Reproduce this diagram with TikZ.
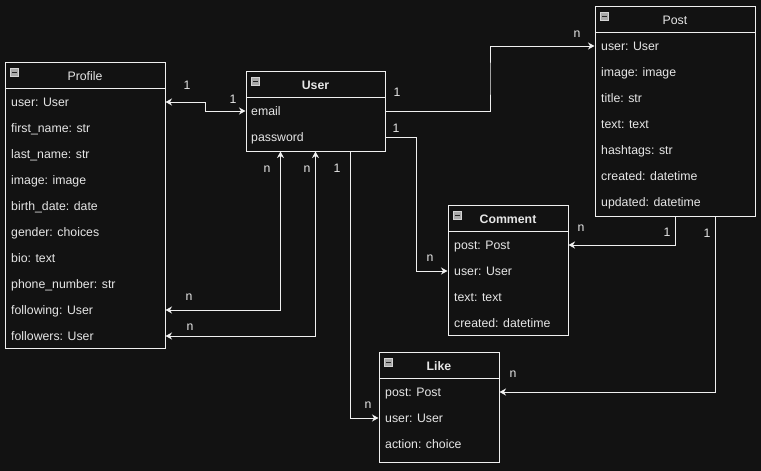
\documentclass[tikz,border=0pt]{standalone}
\usepackage{fontspec}
\setmainfont{Liberation Sans}
\usetikzlibrary{arrows.meta,calc,positioning}
\definecolor{canvasdark}{HTML}{121212}
\definecolor{linelight}{HTML}{F0F0F0}
\definecolor{textlight}{HTML}{E6E6E6}
\definecolor{iconface}{HTML}{A9A9A9}
\definecolor{iconrim}{HTML}{D4D4D4}

\begin{document}
\begin{tikzpicture}[
  x=1pt, y=-1pt,
  >={Stealth[length=6.5pt,width=7pt,inset=2pt]},
  font=\fontsize{12.3}{14}\selectfont,
  entity/.style={draw=linelight, line width=1pt, fill=canvasdark, inner sep=0pt},
  header/.style={inner sep=0pt, minimum height=26pt, text=textlight},
  field/.style={anchor=west, inner sep=0pt, text=textlight, text height=10pt, text depth=2pt},
  minusicon/.style={draw=iconrim, fill=iconface, line width=0.6pt, minimum size=8pt, inner sep=0pt, anchor=north west,
    path picture={\fill[black!85] ([xshift=1.6pt,yshift=-0.8pt]path picture bounding box.west) rectangle ([xshift=-1.6pt,yshift=0.8pt]path picture bounding box.east);}},
  link/.style={draw=linelight, line width=1pt},
  mult/.style={inner sep=0pt, text=textlight}
]
\useasboundingbox[fill=canvasdark] (0,0) rectangle (761,471);

% Profile
\node[entity, minimum width=160pt, minimum height=286pt] (profile) at (85,205) {};
\node[header, minimum width=160pt] (profiletitle) at (85,75) {};
\node[text=textlight, inner sep=0pt] (profilename) at (85,76) {Profile};
\draw[link] (profiletitle.south west) -- (profiletitle.south east);
\node[minusicon] (profileicon) at (10,68) {};
\node[field] (profileuser) at (11,102) {user: User};
\node[field] (profilefirst) at (11,128) {first\_name: str};
\node[field] (profilelast) at (11,154) {last\_name: str};
\node[field] (profileimage) at (11,180) {image: image};
\node[field] (profilebirth) at (11,206) {birth\_date: date};
\node[field] (profilegender) at (11,232) {gender: choices};
\node[field] (profilebio) at (11,258) {bio: text};
\node[field] (profilephone) at (11,284) {phone\_number: str};
\node[field] (profilefollowing) at (11,310) {following: User};
\node[field] (profilefollowers) at (11,336) {followers: User};

% User
\node[entity, minimum width=139pt, minimum height=80pt] (user) at (315.5,111) {};
\node[header, minimum width=139pt] (usertitle) at (315.5,84) {};
\node[text=textlight, inner sep=0pt, font=\fontsize{12.3}{14}\selectfont\bfseries] (username) at (315.5,85) {User};
\draw[link] (usertitle.south west) -- (usertitle.south east);
\node[minusicon] (usericon) at (251,77) {};
\node[field] (useremail) at (251,111) {email};
\node[field] (userpassword) at (251,137) {password};

% Post
\node[entity, minimum width=160pt, minimum height=210pt] (post) at (675,111) {};
\node[header, minimum width=160pt] (posttitle) at (675,19) {};
\node[text=textlight, inner sep=0pt] (postname) at (675,20) {Post};
\draw[link] (posttitle.south west) -- (posttitle.south east);
\node[minusicon] (posticon) at (600,12) {};
\node[field] (postuser) at (601,46) {user: User};
\node[field] (postimage) at (601,72) {image: image};
\node[field] (posttitlefield) at (601,98) {title: str};
\node[field] (posttext) at (601,124) {text: text};
\node[field] (posthashtags) at (601,150) {hashtags: str};
\node[field] (postcreated) at (601,176) {created: datetime};
\node[field] (postupdated) at (601,202) {updated: datetime};

% Comment
\node[entity, minimum width=120pt, minimum height=130pt] (comment) at (508,270) {};
\node[header, minimum width=120pt] (commenttitle) at (508,218) {};
\node[text=textlight, inner sep=0pt, font=\fontsize{12.3}{14}\selectfont\bfseries] (commentname) at (508,219) {Comment};
\draw[link] (commenttitle.south west) -- (commenttitle.south east);
\node[minusicon] (commenticon) at (453,211) {};
\node[field] (commentpost) at (454,245) {post: Post};
\node[field] (commentuser) at (454,271) {user: User};
\node[field] (commenttext) at (454,297) {text: text};
\node[field] (commentcreated) at (454,323) {created: datetime};

% Like
\node[entity, minimum width=120pt, minimum height=110pt] (like) at (439,407) {};
\node[header, minimum width=120pt] (liketitle) at (439,365) {};
\node[text=textlight, inner sep=0pt, font=\fontsize{12.3}{14}\selectfont\bfseries] (likename) at (439,366) {Like};
\draw[link] (liketitle.south west) -- (liketitle.south east);
\node[minusicon] (likeicon) at (384,358) {};
\node[field] (likepost) at (385,392) {post: Post};
\node[field] (likeuser) at (385,418) {user: User};
\node[field] (likeaction) at (385,444) {action: choice};

% relations
\coordinate (profileuserend) at (profile.east |- profileuser);
\coordinate (useremailend) at (user.west |- useremail);
\draw[link, <->] (profileuserend) -| ($(profileuserend)!0.5!(useremailend)$) |- (useremailend);

\coordinate (userpoststart) at (user.east |- useremail);
\coordinate (postuserend) at (post.west |- postuser);
\draw[link, ->] (userpoststart) -| ($(userpoststart)!0.5!(postuserend)$) |- (postuserend);

\coordinate (usercommentstart) at (user.east |- userpassword);
\coordinate (commentuserend) at (comment.west |- commentuser);
\draw[link, ->] (usercommentstart) -| ($(usercommentstart)!0.5!(commentuserend)$) |- (commentuserend);

\coordinate (userfollowingend) at ($(user.south west)!0.25!(user.south east)$);
\coordinate (userfollowersend) at ($(user.south west)!0.5!(user.south east)$);
\coordinate (userlikestart) at ($(user.south west)!0.75!(user.south east)$);
\draw[link, <->] (userfollowingend) |- (profile.east |- profilefollowing);
\draw[link, <->] (userfollowersend) |- (profile.east |- profilefollowers);
\draw[link, ->] (userlikestart) |- (like.west |- likeuser);

\coordinate (postcommentstart) at ($(post.south west)!0.5!(post.south east)$);
\coordinate (postlikestart) at ($(post.south west)!0.75!(post.south east)$);
\draw[link, ->] (postcommentstart) |- (comment.east |- commentpost);
\draw[link, ->] (postlikestart) |- (like.east |- likepost);

% multiplicities
\node[mult] (multprofileone) at (187,85) {1};
\node[mult] (multuserone) at (233,99.5) {1};
\node[mult] (multpostuserone) at (397,92.5) {1};
\node[mult] (multpostn) at (577,34) {n};
\node[mult] (multcommentuserone) at (396,128) {1};
\node[mult] (multcommentusern) at (430,258) {n};
\node[mult] (multfollowingtop) at (267,169.5) {n};
\node[mult] (multfollowerstop) at (307,169.5) {n};
\node[mult] (multlikeuserone) at (337,168.5) {1};
\node[mult] (multfollowingn) at (189,297.5) {n};
\node[mult] (multfollowersn) at (190,327.5) {n};
\node[mult] (multlikeusern) at (368,405.5) {n};
\node[mult] (multcommentpostone) at (667,232) {1};
\node[mult] (multcommentpostn) at (581,228.5) {n};
\node[mult] (multlikepostone) at (707,233) {1};
\node[mult] (multlikepostn) at (513,374.5) {n};
\end{tikzpicture}
\end{document}
